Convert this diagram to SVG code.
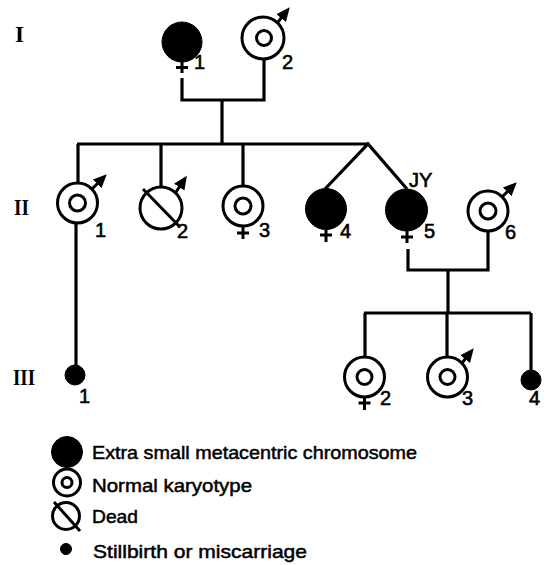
<svg xmlns="http://www.w3.org/2000/svg" width="549" height="565" viewBox="0 0 549 565">
<defs>
<marker id="male" viewBox="0 0 10 10" refX="1" refY="5" markerWidth="4.6" markerHeight="4.6" orient="auto" markerUnits="strokeWidth">
<path d="M0,0.5 L10,5 L0,9.5 Z" fill="#000"/>
</marker>
</defs>
<style>
.ln{stroke:#000;stroke-width:3.2;fill:none;stroke-linecap:butt;stroke-linejoin:miter}
.aff{fill:#000;stroke:#000;stroke-width:1}
.nor{fill:#fff;stroke:#000;stroke-width:3}
.sym{stroke:#000;stroke-width:3;fill:none}
.arr{stroke:#000;stroke-width:3;fill:none;marker-end:url(#male)}
.num{font-family:"Liberation Sans","DejaVu Sans",sans-serif;font-size:20px;fill:#000;stroke:#000;stroke-width:0.6}
.gen{font-family:"Liberation Serif","DejaVu Serif",serif;font-size:23px;font-weight:bold;fill:#000}
.leg{font-family:"Liberation Sans","DejaVu Sans",sans-serif;font-size:19px;fill:#000;stroke:#000;stroke-width:0.5}
</style>
<rect width="549" height="565" fill="#fff"/>

<g id="generation-labels">
<text class="gen" x="15" y="42" textLength="9" lengthAdjust="spacingAndGlyphs">I</text>
<text class="gen" x="14" y="215" textLength="15" lengthAdjust="spacingAndGlyphs">II</text>
<text class="gen" x="13" y="385" textLength="22" lengthAdjust="spacingAndGlyphs">III</text>
</g>

<g id="connectors">
<path class="ln" d="M182,78 V100 H264 V59"/>
<path class="ln" d="M222,100 V144"/>
<path class="ln" d="M77,144 H368"/>
<path class="ln" d="M78,144 V183"/>
<path class="ln" d="M161,144 V187"/>
<path class="ln" d="M243,144 V186"/>
<path class="ln" d="M325,189 L368,144 L407,189"/>
<path class="ln" d="M76,223 V366"/>
<path class="ln" d="M408,249 V270 H488 V231"/>
<path class="ln" d="M448,270 V313"/>
<path class="ln" d="M364,313 H531"/>
<path class="ln" d="M365,313 V357"/>
<path class="ln" d="M447,313 V357"/>
<path class="ln" d="M531,313 V370"/>
</g>

<g id="I-1">
<circle class="aff" cx="182" cy="42" r="20"/>
<path class="sym" d="M182,62 V73 M176,67.5 H188"/>
<text class="num" x="194" y="69">1</text>
</g>

<g id="I-2">
<circle class="nor" cx="263" cy="38" r="21"/>
<circle class="sym" cx="264" cy="38" r="7.5"/>
<path class="arr" d="M278,22 L282,17"/>
<text class="num" x="282" y="69">2</text>
</g>

<g id="II-1">
<circle class="nor" cx="77.5" cy="203" r="20"/>
<circle class="sym" cx="77.5" cy="203" r="8"/>
<path class="arr" d="M92,189 L98,183"/>
<text class="num" x="95" y="237">1</text>
</g>

<g id="II-2">
<circle class="nor" cx="161" cy="208" r="21"/>
<path class="sym" d="M143,189 L179,226"/>
<path class="arr" d="M176,192 L180,186"/>
<text class="num" x="177" y="238">2</text>
</g>

<g id="II-3">
<circle class="nor" cx="243" cy="206" r="20"/>
<circle class="sym" cx="243" cy="206" r="8"/>
<path class="sym" d="M243,226 V239 M237,233 H249"/>
<text class="num" x="259" y="237">3</text>
</g>

<g id="II-4">
<circle class="aff" cx="326" cy="209" r="20.5"/>
<path class="sym" d="M326,229 V242 M320,235 H332"/>
<text class="num" x="340" y="238">4</text>
</g>

<g id="II-5">
<circle class="aff" cx="406.5" cy="210" r="21"/>
<path class="sym" d="M407,231 V243 M401,237 H413"/>
<text class="num" x="424" y="238">5</text>
<text class="num" x="409" y="187">JY</text>
</g>

<g id="II-6">
<circle class="nor" cx="488" cy="211" r="20"/>
<circle class="sym" cx="488" cy="211" r="8"/>
<path class="arr" d="M502,197 L508,191"/>
<text class="num" x="505" y="239">6</text>
</g>

<g id="III-1">
<circle class="aff" cx="75" cy="375" r="10"/>
<text class="num" x="79" y="403">1</text>
</g>

<g id="III-2">
<circle class="nor" cx="364.5" cy="377" r="20"/>
<circle class="sym" cx="364.5" cy="377" r="7.5"/>
<path class="sym" d="M364.5,397 V410 M358.5,403 H370.5"/>
<text class="num" x="380" y="405">2</text>
</g>

<g id="III-3">
<circle class="nor" cx="447.5" cy="377" r="20"/>
<circle class="sym" cx="447.5" cy="377" r="7.5"/>
<path class="arr" d="M462,363 L466,358"/>
<text class="num" x="462" y="405">3</text>
</g>

<g id="III-4">
<circle class="aff" cx="531" cy="380" r="10"/>
<text class="num" x="529" y="405">4</text>
</g>

<g id="legend">
<circle class="aff" cx="67" cy="452" r="15.5"/>
<text class="leg" x="92" y="459" textLength="325" lengthAdjust="spacingAndGlyphs">Extra small metacentric chromosome</text>
<circle class="nor" cx="67" cy="482.5" r="13.5"/>
<circle class="sym" cx="67" cy="482.5" r="5"/>
<text class="leg" x="92" y="492" textLength="160" lengthAdjust="spacingAndGlyphs">Normal karyotype</text>
<circle class="nor" cx="66" cy="516" r="13.5"/>
<path class="sym" d="M54,502 L80,531"/>
<text class="leg" x="92" y="523" textLength="46" lengthAdjust="spacingAndGlyphs">Dead</text>
<circle class="aff" cx="66" cy="549" r="5.5"/>
<text class="leg" x="93" y="558" textLength="214" lengthAdjust="spacingAndGlyphs">Stillbirth or miscarriage</text>
</g>
</svg>
